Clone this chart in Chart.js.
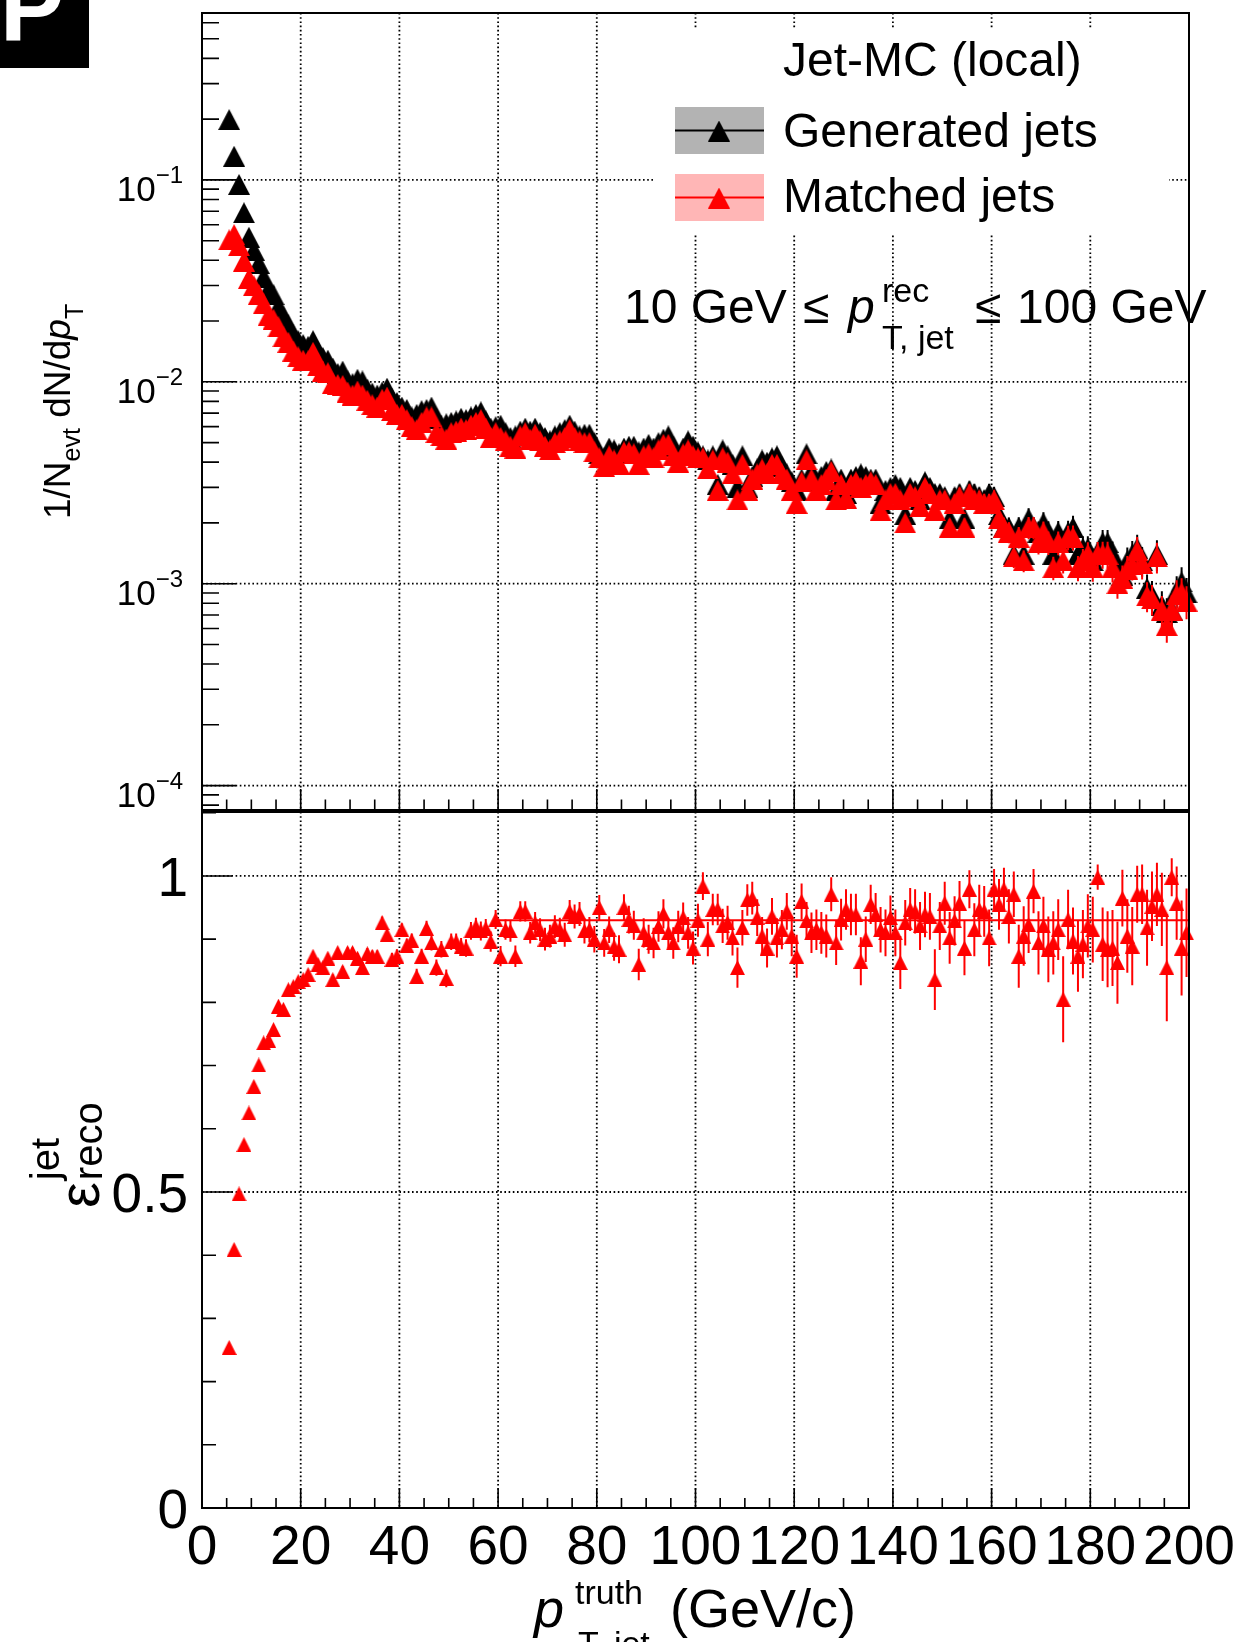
<!DOCTYPE html>
<html>
<head>
<meta charset="utf-8">
<script src="https://cdn.jsdelivr.net/npm/chart.js@4.4.1/dist/chart.umd.min.js"></script>
<style>
  html, body { margin: 0; padding: 0; background: #fff; }
  #wrap { position: relative; width: 1235px; height: 1642px; overflow: hidden; }
  #wrap canvas { position: absolute; left: 0; top: 0; }
</style>
</head>
<body>
<div id="wrap">
  <canvas id="spectrum" width="1235" height="1642"></canvas>
  <canvas id="efficiency" width="1235" height="1642"></canvas>
</div>
<script>
// bin centres (GeV/c), 1 GeV bins
const ptBins = [
  5.5, 6.5, 7.5, 8.5, 9.5, 10.5, 11.5, 12.5, 13.5, 14.5,
  15.5, 16.5, 17.5, 18.5, 19.5, 20.5, 21.5, 22.5, 23.5, 24.5,
  25.5, 26.5, 27.5, 28.5, 29.5, 30.5, 31.5, 32.5, 33.5, 34.5,
  35.5, 36.5, 37.5, 38.5, 39.5, 40.5, 41.5, 42.5, 43.5, 44.5,
  45.5, 46.5, 47.5, 48.5, 49.5, 50.5, 51.5, 52.5, 53.5, 54.5,
  55.5, 56.5, 57.5, 58.5, 59.5, 60.5, 61.5, 62.5, 63.5, 64.5,
  65.5, 66.5, 67.5, 68.5, 69.5, 70.5, 71.5, 72.5, 73.5, 74.5,
  75.5, 76.5, 77.5, 78.5, 79.5, 80.5, 81.5, 82.5, 83.5, 84.5,
  85.5, 86.5, 87.5, 88.5, 89.5, 90.5, 91.5, 92.5, 93.5, 94.5,
  95.5, 96.5, 97.5, 98.5, 99.5, 100.5, 101.5, 102.5, 103.5, 104.5,
  105.5, 106.5, 107.5, 108.5, 109.5, 110.5, 111.5, 112.5, 113.5, 114.5,
  115.5, 116.5, 117.5, 118.5, 119.5, 120.5, 121.5, 122.5, 123.5, 124.5,
  125.5, 126.5, 127.5, 128.5, 129.5, 130.5, 131.5, 132.5, 133.5, 134.5,
  135.5, 136.5, 137.5, 138.5, 139.5, 140.5, 141.5, 142.5, 143.5, 144.5,
  145.5, 146.5, 147.5, 148.5, 149.5, 150.5, 151.5, 152.5, 153.5, 154.5,
  155.5, 156.5, 157.5, 158.5, 159.5, 160.5, 161.5, 162.5, 163.5, 164.5,
  165.5, 166.5, 167.5, 168.5, 169.5, 170.5, 171.5, 172.5, 173.5, 174.5,
  175.5, 176.5, 177.5, 178.5, 179.5, 180.5, 181.5, 182.5, 183.5, 184.5,
  185.5, 186.5, 187.5, 188.5, 189.5, 190.5, 191.5, 192.5, 193.5, 194.5,
  195.5, 196.5, 197.5, 198.5, 199.5
];

// 1/Nevt dN/dpT, generated jets
const genJets = [
  0.199, 0.131, 0.095, 0.0688, 0.052, 0.0448, 0.0386, 0.033, 0.0288, 0.027,
  0.0236, 0.0212, 0.0192, 0.0172, 0.016, 0.0153, 0.015, 0.016, 0.014, 0.0132,
  0.0128, 0.0117, 0.011, 0.0113, 0.0101, 0.0098, 0.0103, 0.0101, 0.0092, 0.0088,
  0.0086, 0.0089, 0.0093, 0.0083, 0.0079, 0.0075, 0.0073, 0.0067, 0.0069, 0.0072,
  0.0073, 0.0075, 0.0066, 0.0061, 0.0062, 0.0063, 0.0064, 0.0066, 0.0065, 0.0067,
  0.0069, 0.0071, 0.0064, 0.0059, 0.006, 0.0061, 0.0056, 0.0053, 0.0054, 0.0057,
  0.0059, 0.0057, 0.0059, 0.0056, 0.0053, 0.0051, 0.0054, 0.0056, 0.0058, 0.0061,
  0.0057, 0.0054, 0.0055, 0.0055, 0.005, 0.0044, 0.0042, 0.0047, 0.0046, 0.0044,
  0.0047, 0.0048, 0.0048, 0.0045, 0.0047, 0.0049, 0.0047, 0.005, 0.0052, 0.0054,
  0.0048, 0.0043, 0.0047, 0.0051, 0.0048, 0.0045, 0.0043, 0.0041, 0.0043, 0.0031,
  0.0046, 0.0043, 0.0039, 0.003, 0.0043, 0.003, 0.0034, 0.0037, 0.0041, 0.004,
  0.0042, 0.0043, 0.0038, 0.0035, 0.0032, 0.0029, 0.0033, 0.0044, 0.0036, 0.0032,
  0.0034, 0.0036, 0.0037, 0.0029, 0.0033, 0.0028, 0.0033, 0.0034, 0.0035, 0.0034,
  0.0033, 0.0033, 0.0025, 0.0029, 0.003, 0.0031, 0.003, 0.0022, 0.003, 0.0029,
  0.0026, 0.0032, 0.003, 0.0028, 0.0028, 0.0027, 0.0021, 0.0027, 0.0028, 0.0021,
  0.0029, 0.0028, 0.0027, 0.0026, 0.0028, 0.0027, 0.0022, 0.0019, 0.0019, 0.0014,
  0.0019, 0.0014, 0.0021, 0.0019, 0.0018, 0.002, 0.0018, 0.0014, 0.0018, 0.0016,
  0.0018, 0.0019, 0.0014, 0.0015, 0.0015, 0.0013, 0.0014, 0.0016, 0.0016, 0.0014,
  0.0012, 0.0011, 0.0013, 0.0014, 0.0015, 0.0013, 0.00095, 0.00088, 0.0014, 0.00078,
  0.00072, 0.00074, 0.00092, 0.00102, 0.0009
];

// 1/Nevt dN/dpT, matched jets
const matchedJets = [
  0.0505, 0.0536, 0.0472, 0.0396, 0.0325, 0.0299, 0.0271, 0.0243, 0.0213, 0.0204,
  0.0187, 0.0167, 0.0157, 0.0142, 0.0133, 0.0128, 0.0127, 0.014, 0.012, 0.0113,
  0.0111, 0.0098, 0.0097, 0.0096, 0.0089, 0.0086, 0.009, 0.0086, 0.0081, 0.0077,
  0.0075, 0.0082, 0.0084, 0.0072, 0.0069, 0.0069, 0.0065, 0.006, 0.0058, 0.0063,
  0.0067, 0.0067, 0.0056, 0.0054, 0.0052, 0.0056, 0.0057, 0.0059, 0.0058, 0.0061,
  0.0063, 0.0065, 0.0059, 0.0053, 0.0056, 0.0053, 0.0051, 0.0048, 0.0047, 0.0054,
  0.0056, 0.0052, 0.0055, 0.0051, 0.0048, 0.0046, 0.005, 0.0051, 0.0053, 0.0058,
  0.0053, 0.0051, 0.005, 0.005, 0.0045, 0.0042, 0.0038, 0.0043, 0.0041, 0.0039,
  0.0045, 0.0045, 0.0044, 0.0039, 0.0043, 0.0044, 0.0042, 0.0046, 0.0049, 0.0049,
  0.0043, 0.004, 0.0044, 0.0046, 0.0043, 0.0042, 0.0042, 0.0037, 0.0041, 0.0029,
  0.0042, 0.004, 0.0035, 0.0026, 0.0039, 0.0029, 0.0033, 0.0035, 0.0037, 0.0035,
  0.0039, 0.0039, 0.0035, 0.0033, 0.0029, 0.0025, 0.0032, 0.0041, 0.0033, 0.0029,
  0.0031, 0.0033, 0.0036, 0.0026, 0.0031, 0.00265, 0.0031, 0.0032, 0.003, 0.0031,
  0.0032, 0.0031, 0.0023, 0.0026, 0.0028, 0.0028, 0.0026, 0.002, 0.0028, 0.0027,
  0.0024, 0.003, 0.0028, 0.0023, 0.0026, 0.0026, 0.0019, 0.0025, 0.0027, 0.0019,
  0.0028, 0.0026, 0.0026, 0.0025, 0.0025, 0.0026, 0.0021, 0.0019, 0.0018, 0.00136,
  0.0017, 0.0013, 0.0019, 0.0019, 0.0016, 0.0018, 0.0016, 0.0012, 0.0016, 0.0013,
  0.0017, 0.0017, 0.0012, 0.0013, 0.0014, 0.0012, 0.0014, 0.0014, 0.0014, 0.0012,
  0.001, 0.00106, 0.00118, 0.00124, 0.00146, 0.00126, 0.00087, 0.00084, 0.00136, 0.00074,
  0.00062, 0.00074, 0.00088, 0.0009, 0.00082
];

// relative statistical uncertainty of the spectra
const relStatErr = [
  0.004, 0.004, 0.005, 0.005, 0.005, 0.006, 0.006, 0.006, 0.007, 0.007,
  0.007, 0.008, 0.008, 0.008, 0.009, 0.009, 0.009, 0.010, 0.010, 0.010,
  0.011, 0.011, 0.012, 0.012, 0.012, 0.013, 0.013, 0.013, 0.014, 0.014,
  0.014, 0.015, 0.015, 0.015, 0.016, 0.016, 0.017, 0.017, 0.017, 0.018,
  0.018, 0.018, 0.019, 0.019, 0.020, 0.020, 0.020, 0.021, 0.021, 0.022,
  0.022, 0.022, 0.023, 0.023, 0.024, 0.024, 0.025, 0.025, 0.026, 0.026,
  0.027, 0.027, 0.028, 0.028, 0.029, 0.029, 0.030, 0.030, 0.031, 0.031,
  0.032, 0.033, 0.033, 0.034, 0.035, 0.035, 0.036, 0.036, 0.037, 0.038,
  0.038, 0.039, 0.040, 0.040, 0.041, 0.042, 0.042, 0.043, 0.044, 0.045,
  0.045, 0.046, 0.047, 0.048, 0.048, 0.049, 0.050, 0.051, 0.052, 0.052,
  0.053, 0.054, 0.055, 0.056, 0.057, 0.058, 0.058, 0.059, 0.060, 0.061,
  0.062, 0.063, 0.064, 0.065, 0.066, 0.067, 0.068, 0.069, 0.070, 0.071,
  0.072, 0.073, 0.074, 0.075, 0.076, 0.077, 0.078, 0.079, 0.080, 0.081,
  0.082, 0.083, 0.084, 0.086, 0.087, 0.088, 0.089, 0.090, 0.092, 0.093,
  0.094, 0.095, 0.097, 0.098, 0.099, 0.101, 0.102, 0.103, 0.105, 0.106,
  0.107, 0.109, 0.110, 0.112, 0.113, 0.115, 0.116, 0.118, 0.119, 0.121,
  0.122, 0.124, 0.125, 0.127, 0.129, 0.130, 0.132, 0.134, 0.135, 0.137,
  0.139, 0.141, 0.142, 0.144, 0.146, 0.148, 0.150, 0.152, 0.154, 0.156,
  0.158, 0.160, 0.162, 0.164, 0.166, 0.168, 0.170, 0.172, 0.174, 0.176,
  0.178, 0.180, 0.182, 0.184, 0.186
];

// jet reconstruction efficiency
const recoEff = [
  0.254, 0.409, 0.497, 0.575, 0.625, 0.667, 0.701, 0.736, 0.74, 0.757,
  0.794, 0.789, 0.82, 0.825, 0.833, 0.836, 0.844, 0.873, 0.86, 0.855,
  0.87, 0.836, 0.879, 0.849, 0.879, 0.879, 0.87, 0.855, 0.877, 0.873,
  0.873, 0.926, 0.907, 0.868, 0.873, 0.915, 0.89, 0.898, 0.841, 0.873,
  0.917, 0.894, 0.855, 0.884, 0.838, 0.896, 0.896, 0.888, 0.886, 0.913,
  0.92, 0.913, 0.917, 0.896, 0.931, 0.873, 0.915, 0.913, 0.873, 0.944,
  0.944, 0.91, 0.926, 0.915, 0.9, 0.905, 0.92, 0.915, 0.907, 0.944,
  0.936, 0.94, 0.913, 0.915, 0.9, 0.95, 0.894, 0.915, 0.888, 0.884,
  0.95, 0.931, 0.922, 0.86, 0.91, 0.9, 0.894, 0.92, 0.94, 0.91,
  0.894, 0.92, 0.934, 0.91, 0.886, 0.93, 0.984, 0.9, 0.947, 0.947,
  0.921, 0.926, 0.902, 0.855, 0.918, 0.962, 0.965, 0.934, 0.905, 0.886,
  0.936, 0.902, 0.915, 0.944, 0.905, 0.873, 0.96, 0.929, 0.91, 0.915,
  0.91, 0.905, 0.971, 0.894, 0.931, 0.947, 0.939, 0.939, 0.865, 0.9,
  0.955, 0.939, 0.915, 0.91, 0.934, 0.91, 0.863, 0.926, 0.947, 0.944,
  0.921, 0.939, 0.936, 0.836, 0.921, 0.957, 0.902, 0.929, 0.957, 0.886,
  0.979, 0.915, 0.947, 0.944, 0.902, 0.979, 0.955, 0.979, 0.936, 0.971,
  0.873, 0.905, 0.923, 0.976, 0.894, 0.921, 0.884, 0.894, 0.915, 0.805,
  0.931, 0.897, 0.873, 0.892, 0.921, 0.915, 0.998, 0.892, 0.884, 0.886,
  0.863, 0.965, 0.905, 0.889, 0.971, 0.971, 0.918, 0.952, 0.971, 0.947,
  0.855, 0.998, 0.957, 0.886, 0.91
];

const recoEffErr = [
  0.004, 0.005, 0.005, 0.005, 0.005, 0.005, 0.005, 0.005, 0.005, 0.005,
  0.005, 0.006, 0.006, 0.006, 0.006, 0.006, 0.006, 0.007, 0.007, 0.007,
  0.007, 0.008, 0.007, 0.008, 0.008, 0.008, 0.008, 0.009, 0.009, 0.009,
  0.009, 0.010, 0.010, 0.010, 0.011, 0.010, 0.011, 0.011, 0.012, 0.012,
  0.012, 0.012, 0.013, 0.013, 0.014, 0.013, 0.013, 0.014, 0.014, 0.014,
  0.014, 0.015, 0.015, 0.016, 0.015, 0.016, 0.016, 0.017, 0.017, 0.016,
  0.016, 0.017, 0.017, 0.018, 0.018, 0.018, 0.018, 0.019, 0.019, 0.018,
  0.019, 0.019, 0.020, 0.020, 0.021, 0.020, 0.022, 0.021, 0.022, 0.022,
  0.021, 0.022, 0.023, 0.025, 0.023, 0.023, 0.024, 0.024, 0.023, 0.024,
  0.025, 0.025, 0.024, 0.025, 0.026, 0.026, 0.022, 0.027, 0.025, 0.025,
  0.027, 0.027, 0.028, 0.032, 0.028, 0.025, 0.026, 0.029, 0.030, 0.031,
  0.029, 0.031, 0.031, 0.029, 0.032, 0.034, 0.028, 0.030, 0.032, 0.032,
  0.033, 0.034, 0.027, 0.035, 0.033, 0.032, 0.033, 0.033, 0.038, 0.036,
  0.031, 0.034, 0.036, 0.037, 0.035, 0.037, 0.042, 0.036, 0.034, 0.035,
  0.038, 0.036, 0.037, 0.048, 0.038, 0.034, 0.041, 0.039, 0.035, 0.043,
  0.030, 0.042, 0.039, 0.040, 0.045, 0.032, 0.040, 0.034, 0.043, 0.036,
  0.050, 0.047, 0.045, 0.035, 0.050, 0.046, 0.052, 0.050, 0.048, 0.068,
  0.047, 0.053, 0.056, 0.054, 0.050, 0.052, 0.020, 0.058, 0.060, 0.060,
  0.065, 0.045, 0.058, 0.062, 0.045, 0.047, 0.060, 0.055, 0.050, 0.058,
  0.085, 0.030, 0.058, 0.075, 0.070
];

// constant fit of the efficiency plateau
const fitRange = [60, 200];
const fitLevel = 0.930;

const xTicks = [0, 20, 40, 60, 80, 100, 120, 140, 160, 180, 200];
const xTickLabels = ['0', '20', '40', '60', '80', '100', '120', '140', '160', '180', '200'];
const logTicks = [1e-4, 1e-3, 1e-2, 1e-1];
const logTickExp = ['\u22124', '\u22123', '\u22122', '\u22121'];
const effTicks = [0, 0.5, 1];
const effTickLabels = ['0', '0.5', '1'];

const FONT = "'Liberation Sans', Arial, Helvetica, sans-serif";
const fnt = (size, style) => (style ? style + ' ' : '') + size + 'px ' + FONT;

function triangle(color, w, h) {
    let c = document.createElement('canvas');
    c.width = w;
    c.height = h;
    let g = c.getContext('2d');
    g.fillStyle = color;
    g.beginPath();
    g.moveTo(w / 2, 0);
    g.lineTo(w, h);
    g.lineTo(0, h);
    g.closePath();
    g.fill();
    return c;
}

const blackTri = triangle('#000000', 22, 21);
const redTri = triangle('#ff0000', 22, 21);
const smallRedTri = triangle('#ff0000', 15, 15);

// draws text runs one after another; each run may shift its baseline
function runs(ctx, parts, x, y) {
    let cx = x;
    parts.forEach(p => {
        ctx.font = p.font;
        let px = p.x !== undefined ? p.x : cx;
        ctx.fillText(p.text, px, y + (p.dy || 0));
        cx = px + ctx.measureText(p.text).width;
    });
}

const errorBars = {
    id: 'errorBars',
    beforeDatasetDraw(chart, args) {
        let ds = chart.data.datasets[args.index];
        if (!ds.errors) return;
        let ctx = chart.ctx, xs = chart.scales.x, ys = chart.scales.y;
        ctx.save();
        ctx.strokeStyle = ds.errorColor;
        ctx.lineWidth = 2;
        ctx.beginPath();
        ds.data.forEach((p, i) => {
            let px = xs.getPixelForValue(p.x);
            ctx.moveTo(px, ys.getPixelForValue(p.y - ds.errors[i]));
            ctx.lineTo(px, ys.getPixelForValue(p.y + ds.errors[i]));
        });
        ctx.stroke();
        ctx.restore();
    }
};

function dottedGrid(ctx, a, xs, ys, yVals) {
    ctx.save();
    ctx.strokeStyle = '#000';
    ctx.lineWidth = 1.8;
    ctx.setLineDash([1.6, 2.6]);
    ctx.beginPath();
    xTicks.slice(1, -1).forEach(v => {
        let px = xs.getPixelForValue(v);
        ctx.moveTo(px, a.top);
        ctx.lineTo(px, a.bottom);
    });
    yVals.forEach(v => {
        let py = ys.getPixelForValue(v);
        ctx.moveTo(a.left, py);
        ctx.lineTo(a.right, py);
    });
    ctx.stroke();
    ctx.restore();
}

function frameAndXTicks(ctx, a, xs, majorLen) {
    ctx.save();
    ctx.strokeStyle = '#000';
    ctx.lineWidth = 1.6;
    ctx.beginPath();
    for (let v = 0; v <= 200; v += 5) {
        let px = xs.getPixelForValue(v);
        let len = v % 20 === 0 ? majorLen : majorLen / 2;
        ctx.moveTo(px, a.bottom);
        ctx.lineTo(px, a.bottom - len);
    }
    ctx.stroke();
    ctx.lineWidth = 2;
    ctx.strokeRect(a.left, a.top, a.right - a.left, a.bottom - a.top);
    ctx.restore();
}

const spectrumDecor = {
    id: 'spectrumDecor',
    beforeDatasetsDraw(chart) {
        let {ctx, chartArea: a, scales: {x, y}} = chart;
        dottedGrid(ctx, a, x, y, logTicks);
        // legend pad
        ctx.fillStyle = '#fff';
        ctx.fillRect(655, 28, 514, 205);
    },
    afterDatasetsDraw(chart) {
        let {ctx, chartArea: a, scales: {x, y}} = chart;
        frameAndXTicks(ctx, a, x, 21);

        // log y ticks
        ctx.save();
        ctx.strokeStyle = '#000';
        ctx.lineWidth = 1.6;
        ctx.beginPath();
        for (let d = -5; d <= 0; d++) {
            for (let k = 1; k <= 9; k++) {
                let v = k * Math.pow(10, d);
                if (v < y.min || v > y.max) continue;
                let py = y.getPixelForValue(v);
                ctx.moveTo(a.left, py);
                ctx.lineTo(a.left + (k === 1 ? 34 : 17), py);
            }
        }
        ctx.stroke();

        ctx.fillStyle = '#000';
        ctx.textAlign = 'left';
        ctx.textBaseline = 'alphabetic';
        logTicks.forEach((v, i) => {
            let py = y.getPixelForValue(v);
            ctx.font = fnt(24);
            let ew = ctx.measureText(logTickExp[i]).width;
            ctx.fillText(logTickExp[i], a.left - 19 - ew, py + 3);
            ctx.font = fnt(35);
            let bw = ctx.measureText('10').width;
            ctx.fillText('10', a.left - 19 - ew - bw, py + 21);
        });

        // y title
        ctx.save();
        ctx.translate(70, 519);
        ctx.rotate(-Math.PI / 2);
        runs(ctx, [
            {text: '1/N', font: fnt(37)},
            {text: 'evt', font: fnt(25), dy: 10},
            {text: ' dN/d', font: fnt(37)},
            {text: 'p', font: fnt(37, 'italic')},
            {text: 'T', font: fnt(25), dy: 13}
        ], 0, 0);
        ctx.restore();

        // legend
        ctx.font = fnt(48);
        ctx.fillText('Jet-MC (local)', 783, 76);
        ctx.fillStyle = '#b3b3b3';
        ctx.fillRect(675, 107, 89, 47);
        ctx.fillStyle = '#ffb6b6';
        ctx.fillRect(675, 174, 89, 47);
        ctx.lineWidth = 2;
        ctx.strokeStyle = '#000';
        ctx.beginPath(); ctx.moveTo(675, 130.5); ctx.lineTo(764, 130.5); ctx.stroke();
        ctx.strokeStyle = '#ff0000';
        ctx.beginPath(); ctx.moveTo(675, 197.5); ctx.lineTo(764, 197.5); ctx.stroke();
        ctx.drawImage(blackTri, 719 - 11, 131 - 10.5);
        ctx.drawImage(redTri, 719 - 11, 198 - 10.5);
        ctx.fillStyle = '#000';
        ctx.font = fnt(48);
        ctx.fillText('Generated jets', 783, 147);
        ctx.fillText('Matched jets', 783, 212);

        // selection text
        runs(ctx, [
            {text: '10 GeV', font: fnt(48), x: 624},
            {text: '\u2264', font: fnt(48), x: 803},
            {text: 'p', font: fnt(48, 'italic'), x: 848},
            {text: 'rec', font: fnt(34), x: 882, dy: -21},
            {text: 'T, jet', font: fnt(34), x: 882, dy: 26},
            {text: '\u2264', font: fnt(48), x: 975},
            {text: '100 GeV', font: fnt(48), x: 1017}
        ], 0, 323);

        // corner logo
        ctx.fillStyle = '#000';
        ctx.fillRect(0, 0, 89, 68);
        ctx.fillStyle = '#fff';
        ctx.font = fnt(96, 'bold');
        ctx.fillText('P', 0, 40);
        ctx.restore();
    }
};

const efficiencyDecor = {
    id: 'efficiencyDecor',
    beforeDatasetsDraw(chart) {
        let {ctx, chartArea: a, scales: {x, y}} = chart;
        dottedGrid(ctx, a, x, y, [0.5, 1]);
    },
    afterDatasetsDraw(chart) {
        let {ctx, chartArea: a, scales: {x, y}} = chart;
        frameAndXTicks(ctx, a, x, 20);

        ctx.save();
        ctx.strokeStyle = '#000';
        ctx.lineWidth = 1.6;
        ctx.beginPath();
        for (let k = 0; k <= 11; k++) {
            let v = k / 10;
            let py = y.getPixelForValue(v);
            ctx.moveTo(a.left, py);
            ctx.lineTo(a.left + (k % 5 === 0 ? 30 : 14), py);
        }
        ctx.stroke();

        ctx.fillStyle = '#000';
        ctx.textBaseline = 'alphabetic';
        ctx.font = fnt(55);
        ctx.textAlign = 'right';
        effTicks.forEach((v, i) => {
            ctx.fillText(effTickLabels[i], a.left - 14, y.getPixelForValue(v) + 20);
        });
        ctx.textAlign = 'center';
        xTicks.forEach((v, i) => {
            ctx.fillText(xTickLabels[i], x.getPixelForValue(v), a.bottom + 56);
        });
        ctx.textAlign = 'left';

        // x title
        runs(ctx, [
            {text: 'p', font: fnt(54, 'italic'), x: 534},
            {text: 'truth', font: fnt(34), x: 575, dy: -23},
            {text: 'T, jet', font: fnt(34), x: 578, dy: 28},
            {text: '(GeV/c)', font: fnt(54), x: 670}
        ], 0, 1627);

        // y title
        ctx.translate(99, 1208);
        ctx.rotate(-Math.PI / 2);
        ctx.font = fnt(58);
        let ew = ctx.measureText('\u03b5').width;
        runs(ctx, [
            {text: '\u03b5', font: fnt(58), x: 0},
            {text: 'reco', font: fnt(40), x: ew + 2, dy: 3},
            {text: 'jet', font: fnt(40), x: ew + 2, dy: -40}
        ], 0, 0);
        ctx.restore();
    }
};

const common = {
    responsive: false,
    animation: false,
    events: [],
    plugins: {legend: {display: false}, tooltip: {enabled: false}}
};

new Chart(document.getElementById('spectrum'), {
    type: 'scatter',
    data: {
        datasets: [{
            label: 'Matched jets',
            data: ptBins.map((pt, i) => ({x: pt, y: matchedJets[i]})),
            errors: matchedJets.map((v, i) => v * relStatErr[i]),
            errorColor: '#ff0000',
            pointStyle: redTri,
            pointRadius: 10,
            clip: false,
            order: 1
        }, {
            label: 'Generated jets',
            data: ptBins.map((pt, i) => ({x: pt, y: genJets[i]})),
            errors: genJets.map((v, i) => v * relStatErr[i]),
            errorColor: '#000000',
            pointStyle: blackTri,
            pointRadius: 10,
            clip: false,
            order: 2
        }]
    },
    options: {
        ...common,
        layout: {padding: {left: 202, right: 46, top: 13, bottom: 832}},
        scales: {
            x: {type: 'linear', min: 0, max: 200, display: false},
            y: {type: 'logarithmic', min: 7.57e-5, max: 0.671, display: false}
        }
    },
    plugins: [errorBars, spectrumDecor]
});

new Chart(document.getElementById('efficiency'), {
    type: 'scatter',
    data: {
        datasets: [{
            type: 'line',
            label: 'fit',
            data: fitRange.map(pt => ({x: pt, y: fitLevel})),
            borderColor: '#ff0000',
            borderWidth: 2,
            pointRadius: 0,
            clip: false,
            order: 0
        }, {
            label: 'efficiency',
            data: ptBins.map((pt, i) => ({x: pt, y: recoEff[i]})),
            errors: recoEffErr,
            errorColor: '#ff0000',
            pointStyle: smallRedTri,
            pointRadius: 7,
            clip: false,
            order: 1
        }]
    },
    options: {
        ...common,
        layout: {padding: {left: 202, right: 46, top: 812, bottom: 134}},
        scales: {
            x: {type: 'linear', min: 0, max: 200, display: false},
            y: {type: 'linear', min: 0, max: 1.1012, display: false}
        }
    },
    plugins: [errorBars, efficiencyDecor]
});
</script>
</body>
</html>
